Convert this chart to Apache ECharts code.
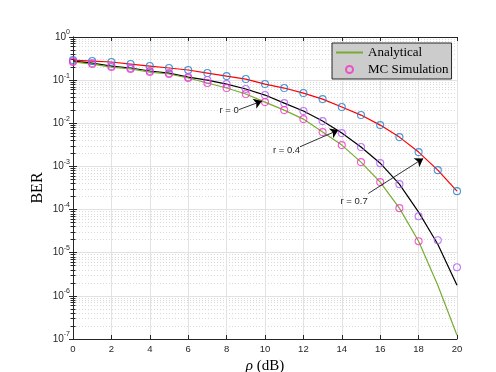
<!DOCTYPE html>
<html>
<head>
<meta charset="utf-8">
<script src="https://cdn.jsdelivr.net/npm/echarts@6/dist/echarts.min.js"></script>
<style>
  html, body { margin: 0; padding: 0; background: #fff; }
  #chart { width: 496px; height: 372px; }
</style>
</head>
<body>
<div id="chart"></div>
<script>
// SNR axis (dB)
const rho = [0, 1, 2, 3, 4, 5, 6, 7, 8, 9, 10, 11, 12, 13, 14, 15, 16, 17, 18, 19, 20];

// analytical BER curves
const berR0 = [0.263, 0.236, 0.201, 0.181, 0.154, 0.139, 0.112, 0.0857, 0.0656, 0.0476, 0.0310,
  0.0202, 0.0125, 0.00625, 0.00312, 0.00126, 4.33e-4, 1.08e-4, 1.85e-5, 1.76e-6, 1.22e-7];
const berR04 = [0.277, 0.249, 0.212, 0.191, 0.163, 0.146, 0.118, 0.1005, 0.0812, 0.0622, 0.0451,
  0.0294, 0.0192, 0.01125, 0.00593, 0.00281, 0.00119, 3.88e-4, 8.7e-5, 1.57e-5, 1.76e-6];
const berR07 = [0.292, 0.277, 0.263, 0.236, 0.212, 0.191, 0.172, 0.146, 0.124, 0.106, 0.0812,
  0.0656, 0.0502, 0.0364, 0.0238, 0.0155, 0.00908, 0.00478, 0.00215, 8.2e-4, 2.67e-4];

// Monte Carlo points
const simR0 = [0.263, 0.236, 0.201, 0.181, 0.154, 0.139, 0.112, 0.0857, 0.0656, 0.0476, 0.0310,
  0.0202, 0.0125, 0.00625, 0.00312, 0.00126, 4.33e-4, 1.08e-4, 1.85e-5];
const simR04 = [0.277, 0.249, 0.212, 0.191, 0.163, 0.146, 0.118, 0.1005, 0.0812, 0.0622, 0.0451,
  0.0294, 0.0192, 0.01125, 0.00593, 0.00281, 0.00119, 3.88e-4, 7.0e-5, 1.95e-5, 4.6e-6];
const simR07 = [0.292, 0.277, 0.263, 0.236, 0.212, 0.191, 0.172, 0.146, 0.124, 0.106, 0.0812,
  0.0656, 0.0502, 0.0364, 0.0238, 0.0155, 0.00908, 0.00478, 0.00215, 8.2e-4, 2.67e-4];

// annotations (data coords)
const annoText = ["r = 0", "r = 0.4", "r = 0.7"];
const annoTextAt = [[8.13, 0.0202], [11.12, 0.00239], [14.64, 1.51e-4]];
const annoFrom = [[8.65, 0.0208], [11.82, 0.00285], [15.38, 2.36e-4]];
const annoTo = [[9.84, 0.0327], [13.82, 0.00695], [18.24, 0.00153]];

const legendNames = ["Analytical", "MC Simulation"];

function pairs(ys) {
  return ys.map((v, i) => [rho[i], v]);
}

var myChart = echarts.init(document.getElementById("chart"));

const axisColor = "#262626";
const tickFont = { fontFamily: "Liberation Sans", color: axisColor };

function lineSeries(name, ys, color) {
  return {
    name: name,
    type: "line",
    data: pairs(ys),
    symbol: "none",
    showSymbol: false,
    lineStyle: { color: color, width: 1.2 },
    // transparent so the legend shows a plain line
    itemStyle: { color: "transparent" },
    z: 2
  };
}

function simSeries(name, ys, color) {
  return {
    name: name,
    type: "scatter",
    data: pairs(ys),
    symbol: "circle",
    symbolSize: 7,
    itemStyle: { color: "transparent", borderColor: color, borderWidth: 1.1 },
    z: 3
  };
}

let option = {
  backgroundColor: "#fff",
  animation: false,
  grid: { left: 73, right: 39, top: 37, bottom: 33, outerBoundsMode: "none" },
  legend: {
    data: legendNames,
    orient: "vertical",
    left: 332,
    top: 43,
    itemWidth: 27,
    itemHeight: 7,
    itemGap: 2,
    padding: [2, 3, 2, 3],
    backgroundColor: "#cccccc",
    borderColor: axisColor,
    borderWidth: 1,
    borderRadius: 0,
    textStyle: { fontFamily: "Liberation Serif", fontSize: 13, color: "#000", lineHeight: 15 }
  },
  xAxis: [
    {
      type: "value",
      min: 0,
      max: 20,
      interval: 2,
      name: "{i|ρ} (dB)",
      nameLocation: "middle",
      nameGap: 18,
      nameTextStyle: {
        fontFamily: "Liberation Serif",
        fontSize: 15,
        color: "#000",
        rich: { i: { fontFamily: "Liberation Serif", fontStyle: "italic", fontSize: 15, color: "#000" } }
      },
      axisLine: { show: true, lineStyle: { color: axisColor, width: 1 } },
      axisTick: { show: true, inside: true, length: 4, lineStyle: { color: axisColor } },
      axisLabel: Object.assign({ fontSize: 9.5, margin: 5 }, tickFont),
      splitLine: { show: true, lineStyle: { color: "#e2e2e2", width: 1 } }
    },
    {
      type: "value",
      position: "top",
      min: 0,
      max: 20,
      interval: 2,
      axisLine: { show: true, lineStyle: { color: axisColor, width: 1 } },
      axisTick: { show: true, inside: true, length: 4, lineStyle: { color: axisColor } },
      axisLabel: { show: false },
      splitLine: { show: false }
    }
  ],
  yAxis: [
    {
      type: "log",
      logBase: 10,
      min: 1e-7,
      max: 1,
      interval: 1,
      name: "BER",
      nameLocation: "middle",
      nameGap: 27,
      nameMoveOverlap: false,
      nameTextStyle: { fontFamily: "Liberation Serif", fontSize: 16, color: "#000" },
      axisLine: { show: true, lineStyle: { color: axisColor, width: 1 } },
      axisTick: { show: true, inside: true, length: 4, lineStyle: { color: axisColor } },
      minorTick: { show: true, splitNumber: 9, length: 2.5, lineStyle: { color: axisColor } },
      axisLabel: {
        margin: 3,
        formatter: function (v) {
          const e = Math.round(Math.log10(v));
          return "{b|10}{s|" + e + "}";
        },
        rich: {
          b: { fontFamily: "Liberation Sans", fontSize: 10, color: axisColor, lineHeight: 16 },
          s: { fontFamily: "Liberation Sans", fontSize: 7, color: axisColor, lineHeight: 8, verticalAlign: "top" }
        }
      },
      splitLine: { show: true, lineStyle: { color: "#e2e2e2", width: 1 } },
      minorSplitLine: { show: true, lineStyle: { color: "#dadada", width: 1, type: [1, 2] } }
    },
    {
      type: "log",
      logBase: 10,
      position: "right",
      min: 1e-7,
      max: 1,
      interval: 1,
      axisLine: { show: true, lineStyle: { color: axisColor, width: 1 } },
      axisTick: { show: true, inside: true, length: 4, lineStyle: { color: axisColor } },
      minorTick: { show: true, splitNumber: 9, length: 2.5, lineStyle: { color: axisColor } },
      axisLabel: { show: false },
      splitLine: { show: false }
    }
  ],
  series: [
    Object.assign(lineSeries("Analytical r=0.7", berR07, "#ff0000"), {
      markLine: {
        silent: true,
        symbol: ["none", "arrow"],
        symbolSize: 8,
        label: { show: false },
        lineStyle: { color: "#000", width: 0.8, type: "solid" },
        data: annoFrom.map((p, i) => [{ coord: p }, { coord: annoTo[i] }])
      },
      markPoint: {
        silent: true,
        symbol: "circle",
        symbolSize: 0,
        label: {
          show: true,
          position: "inside",
          fontFamily: "Liberation Sans",
          fontSize: 9.5,
          color: axisColor,
          formatter: function (p) { return p.name; }
        },
        data: annoText.map((t, i) => ({ name: t, coord: annoTextAt[i] }))
      }
    }),
    lineSeries("Analytical r=0.4", berR04, "#000000"),
    lineSeries("Analytical", berR0, "#77ac30"),
    simSeries("MC r=0.7", simR07, "#1f7fd0"),
    simSeries("MC r=0.4", simR04, "#b25cf5"),
    simSeries("MC Simulation", simR0, "#f531c4")
  ]
};
myChart.setOption(option);
</script>
</body>
</html>
